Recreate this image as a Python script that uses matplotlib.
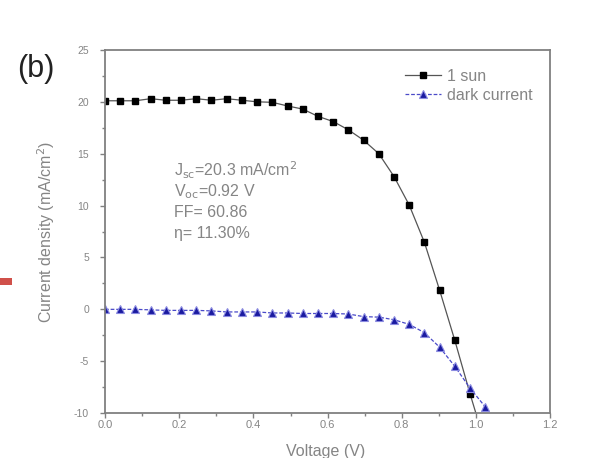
"""J-V curve under 1 sun and in the dark."""

import matplotlib
matplotlib.use("Agg")
import matplotlib.pyplot as plt
from matplotlib.patches import Rectangle
from matplotlib.ticker import MultipleLocator

plt.rcParams["font.family"] = ["Liberation Sans", "DejaVu Sans"]
plt.rcParams["axes.unicode_minus"] = False

# voltage steps (V)
voltage = [0.0, 0.041, 0.082, 0.123, 0.164, 0.205, 0.246, 0.287, 0.328,
           0.369, 0.41, 0.451, 0.492, 0.533, 0.574, 0.615, 0.656, 0.697,
           0.738, 0.779, 0.82, 0.861, 0.902, 0.943, 0.984, 1.025]

# current density (mA/cm2)
j_sun = [20.1, 20.1, 20.1, 20.3, 20.15, 20.15, 20.3, 20.15, 20.3, 20.15,
         20.0, 19.95, 19.6, 19.3, 18.6, 18.1, 17.3, 16.3, 15.0, 12.8,
         10.05, 6.45, 1.84, -3.0, -8.15, -13.0]
j_dark = [0.0, 0.0, 0.0, -0.05, -0.1, -0.1, -0.1, -0.15, -0.25, -0.25,
          -0.25, -0.35, -0.35, -0.4, -0.4, -0.4, -0.45, -0.7, -0.75, -1.0,
          -1.45, -2.25, -3.65, -5.5, -7.6, -9.4]

GREY = "#808080"
TXT = "#858585"

fig = plt.figure(figsize=(6.0, 4.58), dpi=100)
ax = fig.add_axes([0.175, 0.098, 0.742, 0.793])

ax.plot(voltage, j_sun, color="#555555", lw=0.9, marker="s", ms=4.3,
        mfc="black", mec="black", label="1 sun")
ax.plot(voltage, j_dark, color="#4a4ac8", lw=0.9, ls=(0, (3, 1.5)),
        marker="^", ms=5.2, mfc="#1a1aa0", mec="#8a8ae0", mew=0.8,
        label="dark current")

ax.set_xlim(0, 1.2)
ax.set_ylim(-10, 25)
ax.xaxis.set_major_locator(MultipleLocator(0.2))
ax.xaxis.set_minor_locator(MultipleLocator(0.1))
ax.yaxis.set_major_locator(MultipleLocator(5))
ax.yaxis.set_minor_locator(MultipleLocator(2.5))
ax.set_xticklabels([f"{v:.1f}" for v in ax.get_xticks()])

for s in ax.spines.values():
    s.set_color(GREY)
    s.set_linewidth(1.3)
ax.tick_params(which="major", direction="out", length=3.5, width=1,
               color=GREY, labelcolor=TXT, labelsize=7.5)
ax.tick_params(which="minor", direction="out", length=2.5, width=1, color=GREY)
ax.tick_params(axis="x", pad=1.5, labelsize=8)
ax.tick_params(axis="y", pad=8)

ax.set_xlabel("Voltage (V)", color=TXT, fontsize=11.5, va="center")
ax.xaxis.set_label_coords(0.495, -0.106)
ax.set_ylabel("Current density (mA/cm$^2$)", color=TXT, fontsize=11.5)
ax.yaxis.set_label_coords(-0.108, 0.5)

ax.legend(loc="upper right", frameon=False, fontsize=11.5, handlelength=2.3,
          handletextpad=0.35, labelspacing=0.25, labelcolor=TXT,
          bbox_to_anchor=(0.982, 0.975), borderaxespad=0.2)

info = ["J$_\\mathrm{sc}$=20.3 mA/cm$^2$", "V$_\\mathrm{oc}$=0.92 V",
        "FF= 60.86", "η= 11.30%"]
for i, line in enumerate(info):
    ax.text(0.155, 0.669 - i * 0.058, line, transform=ax.transAxes,
            fontsize=11.5, color=TXT, va="center")

fig.text(0.028, 0.849, "(b)", fontsize=22, color="#222222", va="center")
# fragment of the neighbouring panel's arrow
fig.patches.append(Rectangle((0.0, 0.377), 0.02, 0.016, transform=fig.transFigure,
                             color="#d0504a", lw=0))

fig.savefig("out.png", dpi=100)
